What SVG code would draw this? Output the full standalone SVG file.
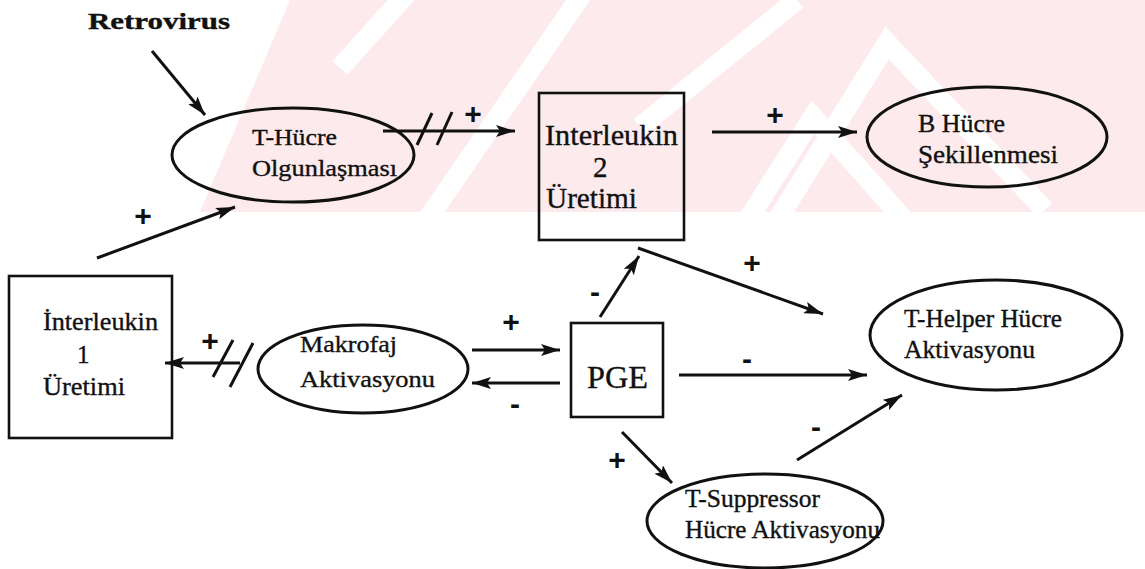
<svg xmlns="http://www.w3.org/2000/svg" width="1145" height="569" viewBox="0 0 1145 569">
<defs>
<marker id="ah" markerUnits="userSpaceOnUse" markerWidth="20" markerHeight="12" refX="19" refY="6" orient="auto">
<path d="M0,0 L19,6 L0,12 L4,6 z" fill="#111"/>
</marker>
<clipPath id="wm"><rect x="0" y="0" width="1145" height="212"/></clipPath>
<style>
.bg{fill:#ffffff}
.pink{fill:#fdeaed}
.wst{stroke:#ffffff;stroke-width:20;fill:none;stroke-linejoin:miter}
.box{fill:none;stroke:#111;stroke-width:2.6}
.ell{fill:none;stroke:#111;stroke-width:3}
.edge{stroke:#111;stroke-width:3;fill:none;marker-end:url(#ah)}
.ln{stroke:#111;stroke-width:3;fill:none}
.t{font-family:"Liberation Serif","Times New Roman",serif;fill:#111;stroke:#111;stroke-width:0.35}
.sg{font-family:"Liberation Sans",Arial,sans-serif;font-weight:bold;fill:#111;text-anchor:middle;font-size:30px}
</style>
</defs>
<rect class="bg" x="0" y="0" width="1145" height="569"/>
<g id="watermark" clip-path="url(#wm)">
<polygon class="pink" points="290,0 1145,0 1145,212 200,212"/>
<line class="wst" x1="340" y1="68" x2="410" y2="-10"/>
<line class="wst" x1="427" y1="220" x2="585" y2="-10"/>
<line class="wst" x1="640" y1="127" x2="797" y2="0"/>
<polyline class="wst" points="740,232 813,117 915,232"/>
<polyline class="wst" points="770,232 887,43 1045,210"/>
</g>
<g id="connectors">
<line class="edge" x1="152" y1="51" x2="205" y2="115"/>
<line class="edge" x1="383" y1="131" x2="515" y2="131"/>
<line class="ln" x1="417" y1="145" x2="432" y2="113"/>
<line class="ln" x1="437" y1="145" x2="452" y2="112"/>
<line class="edge" x1="712" y1="132" x2="857" y2="132"/>
<line class="edge" x1="97" y1="258" x2="235" y2="207"/>
<line class="edge" x1="240" y1="363" x2="165" y2="363"/>
<line class="ln" x1="213" y1="377" x2="233" y2="340"/>
<line class="ln" x1="230" y1="387" x2="253" y2="343"/>
<line class="edge" x1="472" y1="350" x2="560" y2="350"/>
<line class="edge" x1="560" y1="383" x2="472" y2="383"/>
<line class="edge" x1="600" y1="317" x2="639" y2="256"/>
<line class="edge" x1="638" y1="248" x2="823" y2="314"/>
<line class="edge" x1="679" y1="375" x2="867" y2="375"/>
<line class="edge" x1="797" y1="460" x2="902" y2="395"/>
<line class="edge" x1="622" y1="432" x2="672" y2="483"/>
<text class="sg" x="473" y="124">+</text>
<text class="sg" x="775" y="125">+</text>
<text class="sg" x="143" y="226">+</text>
<text class="sg" x="210" y="351">+</text>
<text class="sg" x="511" y="332">+</text>
<text class="sg" x="515" y="414">-</text>
<text class="sg" x="595" y="302">-</text>
<text class="sg" x="752" y="273">+</text>
<text class="sg" x="747" y="369">-</text>
<text class="sg" x="816" y="437">-</text>
<text class="sg" x="617" y="470">+</text>
</g>
<g id="retrovirus">
<text class="t" x="88" y="29" font-size="23" font-weight="bold" textLength="142" lengthAdjust="spacingAndGlyphs">Retrovirus</text>
</g>
<g id="t-hucre">
<ellipse class="ell" cx="293" cy="155" rx="121" ry="47"/>
<text class="t" x="252" y="145" font-size="23" textLength="85" lengthAdjust="spacingAndGlyphs">T-Hücre</text>
<text class="t" x="252" y="176" font-size="23" textLength="145" lengthAdjust="spacingAndGlyphs">Olgunlaşması</text>
</g>
<g id="il2">
<rect class="box" x="539" y="93" width="145" height="147"/>
<text class="t" x="545" y="145" font-size="29" textLength="133" lengthAdjust="spacingAndGlyphs">Interleukin</text>
<text class="t" x="593" y="177" font-size="29">2</text>
<text class="t" x="546" y="208" font-size="29" textLength="91" lengthAdjust="spacingAndGlyphs">Üretimi</text>
</g>
<g id="b-hucre">
<ellipse class="ell" cx="987" cy="137" rx="120" ry="50"/>
<text class="t" x="918" y="132" font-size="25" textLength="87" lengthAdjust="spacingAndGlyphs">B Hücre</text>
<text class="t" x="918" y="163" font-size="25" textLength="140" lengthAdjust="spacingAndGlyphs">Şekillenmesi</text>
</g>
<g id="il1">
<rect class="box" x="9" y="276" width="163" height="162"/>
<text class="t" x="43" y="330" font-size="25" textLength="115" lengthAdjust="spacingAndGlyphs">İnterleukin</text>
<text class="t" x="77" y="363" font-size="25">1</text>
<text class="t" x="43" y="395" font-size="25" textLength="82" lengthAdjust="spacingAndGlyphs">Üretimi</text>
</g>
<g id="makrofaj">
<ellipse class="ell" cx="363" cy="369" rx="105" ry="44"/>
<text class="t" x="300" y="352" font-size="24" textLength="97" lengthAdjust="spacingAndGlyphs">Makrofaj</text>
<text class="t" x="300" y="387" font-size="24" textLength="135" lengthAdjust="spacingAndGlyphs">Aktivasyonu</text>
</g>
<g id="pge">
<rect class="box" x="571" y="323" width="92" height="94"/>
<text class="t" x="587" y="388" font-size="32" textLength="61" lengthAdjust="spacingAndGlyphs">PGE</text>
</g>
<g id="t-helper">
<ellipse class="ell" cx="996" cy="335" rx="126" ry="55"/>
<text class="t" x="904" y="327" font-size="25" textLength="158" lengthAdjust="spacingAndGlyphs">T-Helper Hücre</text>
<text class="t" x="904" y="358" font-size="25" textLength="131" lengthAdjust="spacingAndGlyphs">Aktivasyonu</text>
</g>
<g id="t-suppressor">
<ellipse class="ell" cx="765" cy="521" rx="118" ry="47"/>
<text class="t" x="685" y="507" font-size="25" textLength="135" lengthAdjust="spacingAndGlyphs">T-Suppressor</text>
<text class="t" x="685" y="538" font-size="25" textLength="195" lengthAdjust="spacingAndGlyphs">Hücre Aktivasyonu</text>
</g>
</svg>
